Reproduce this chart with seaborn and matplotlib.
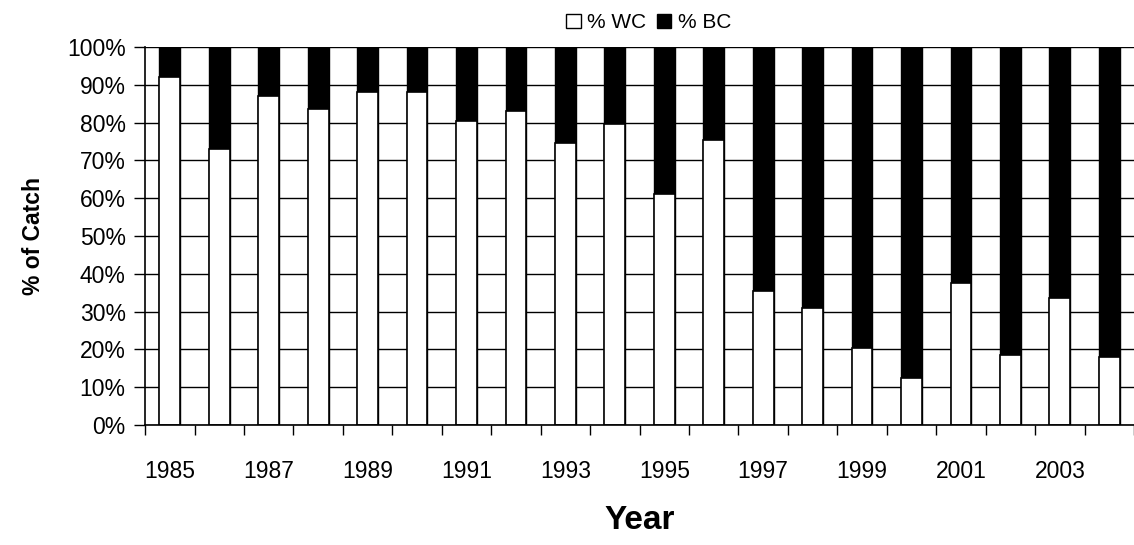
import numpy as np
import pandas as pd
import seaborn as sns
import matplotlib.pyplot as plt
from matplotlib.patches import Patch
from matplotlib.ticker import FixedLocator

# ----------------------
# DATA
# ----------------------
years = list(range(1985, 2005))
pct_wc = [92, 73, 87, 83.5, 88, 88, 80.5, 83, 74.5, 79.5,
          61, 75.5, 35.5, 31, 20.5, 12.5, 37.5, 18.5, 33.5, 18]
pct_bc = [100 - v for v in pct_wc]
year_labels = [str(y) if (y - 1985) % 2 == 0 else "" for y in years]

df = pd.DataFrame({"Year": [str(y) for y in years], "WC": pct_wc, "BC": pct_bc})
df["Total"] = df["WC"] + df["BC"]

# ----------------------
# PLOT
# ----------------------
sns.set_style("white")
plt.rcParams["font.family"] = ["Liberation Sans", "DejaVu Sans"]
plt.rcParams["text.color"] = "black"
plt.rcParams["axes.labelcolor"] = "black"
plt.rcParams["xtick.color"] = "black"
plt.rcParams["ytick.color"] = "black"

fig = plt.figure(figsize=(11.34, 5.45), dpi=100)
ax = fig.add_axes([0.128, 0.22, 0.872, 0.694])

# stacked: full bar in black (BC on top), WC drawn over it in white
sns.barplot(data=df, x="Year", y="Total", color="black", width=0.42,
            saturation=1, edgecolor="black", linewidth=1, ax=ax)
sns.barplot(data=df, x="Year", y="WC", color="white", width=0.42,
            saturation=1, edgecolor="black", linewidth=1.2, ax=ax)

ax.set_ylim(0, 100)
ax.set_xlim(-0.5, len(years) - 0.5)
ax.set_yticks(np.arange(0, 101, 10))
ax.set_yticklabels([f"{v}%" for v in range(0, 101, 10)], fontsize=16.5)
ax.set_xticks(range(len(years)))
ax.set_xticklabels(year_labels, fontsize=16.5)
ax.xaxis.set_minor_locator(FixedLocator(np.arange(-0.5, len(years), 1)))
ax.tick_params(axis="x", which="major", length=0, pad=25)
ax.tick_params(axis="x", which="minor", length=7, width=1, color="black",
               direction="out", bottom=True)
ax.tick_params(axis="y", length=8, width=1, color="black", direction="out",
               left=True, pad=6)

ax.grid(axis="y", color="black", linewidth=1)
ax.set_axisbelow(True)

for side in ["top", "right"]:
    ax.spines[side].set_visible(False)
for side in ["left", "bottom"]:
    ax.spines[side].set_color("black")
    ax.spines[side].set_linewidth(1.2)

ax.set_xlabel("Year", fontsize=24, fontweight="bold", labelpad=16)
ax.set_ylabel("% of Catch", fontsize=16.5, fontweight="bold", labelpad=16)

handles = [Patch(facecolor="white", edgecolor="black", label="% WC"),
           Patch(facecolor="black", edgecolor="black", label="% BC")]
fig.legend(handles=handles, loc="upper center", bbox_to_anchor=(0.572, 1.01),
           ncol=2, frameon=False, fontsize=15, handlelength=0.7,
           handleheight=0.7, handletextpad=0.3, columnspacing=0.5)

fig.savefig("out.png", dpi=100)
